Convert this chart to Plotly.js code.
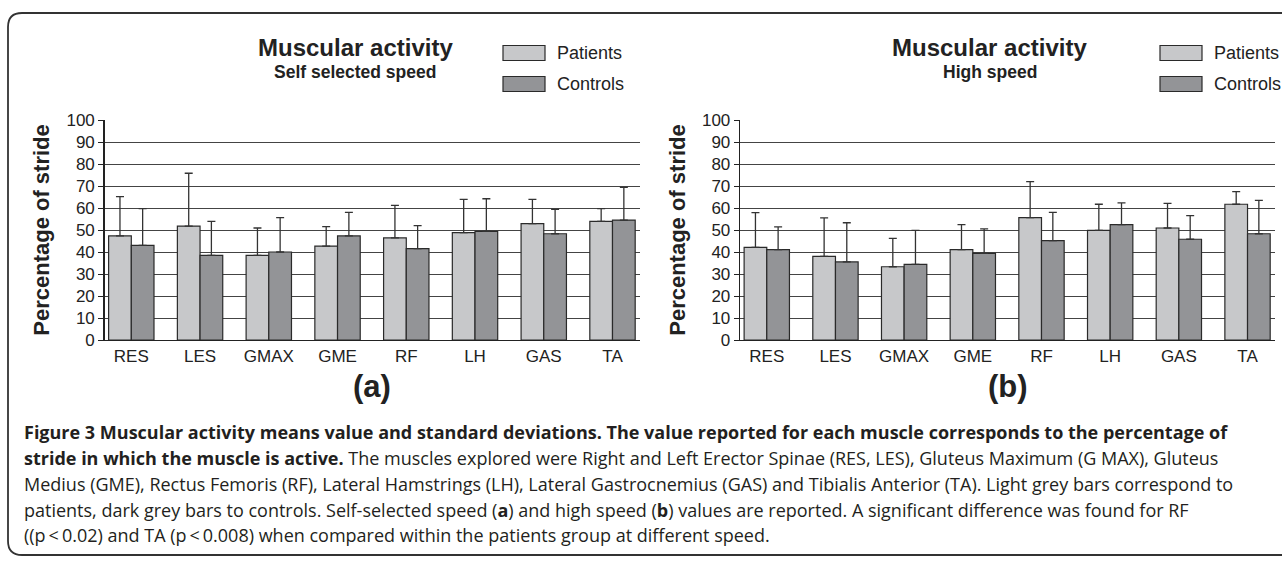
<!DOCTYPE html>
<html>
<head>
<meta charset="utf-8">
<script src="https://cdn.plot.ly/plotly-3.0.1.min.js"></script>
<style>
html,body{margin:0;padding:0;background:#fff;}
#chart{width:1282px;height:565px;}
</style>
</head>
<body>
<div id="chart"></div>
<script>
// ---- Data ----
const muscles = ["RES", "LES", "GMAX", "GME", "RF", "LH", "GAS", "TA"];

// (a) Self selected speed
const selfPatients   = [47.3, 51.8, 38.5, 42.7, 46.4, 48.8, 52.9, 53.9];
const selfPatientsSD = [17.9, 24.0, 12.4,  8.8, 14.8, 15.1, 11.0,  5.8];
const selfControls   = [43.0, 38.5, 40.0, 47.3, 41.5, 49.4, 48.3, 54.5];
const selfControlsSD = [16.7, 15.4, 15.6, 10.7, 10.5, 14.8, 11.1, 14.9];

// (b) High speed
const highPatients   = [42.1, 38.0, 33.3, 41.1, 55.6, 49.8, 50.9, 61.7];
const highPatientsSD = [15.8, 17.5, 12.9, 11.3, 16.4, 11.9, 11.2,  5.7];
const highControls   = [41.1, 35.5, 34.4, 39.4, 45.2, 52.4, 45.8, 48.3];
const highControlsSD = [10.3, 17.8, 15.4, 11.1, 12.8,  9.9, 10.7, 15.2];

const yTicks = [0, 10, 20, 30, 40, 50, 60, 70, 80, 90, 100];
const seriesNames = ["Patients", "Controls"];
const panelTitles = ["Muscular activity", "Muscular activity"];
const panelSubtitles = ["Self selected speed", "High speed"];
const panelLabels = ["(a)", "(b)"];
const yTitle = "Percentage of stride";

const captionLines = [
  "<b>Figure 3 Muscular activity means value and standard deviations. The value reported for each muscle corresponds to the percentage of</b>",
  "<b>stride in which the muscle is active.</b> The muscles explored were Right and Left Erector Spinae (RES, LES), Gluteus Maximum (G MAX), Gluteus",
  "Medius (GME), Rectus Femoris (RF), Lateral Hamstrings (LH), Lateral Gastrocnemius (GAS) and Tibialis Anterior (TA). Light grey bars correspond to",
  "patients, dark grey bars to controls. Self-selected speed (<b>a</b>) and high speed (<b>b</b>) values are reported. A significant difference was found for RF",
  "((p\u2009<\u20090.02) and TA (p\u2009<\u20090.008) when compared within the patients group at different speed."
];

// ---- Styling ----
const W = 1282, H = 565;
const colPat = "#c7c8ca", colCon = "#939497", edge = "#2a2a2a";
const FONT = "Liberation Sans, Arial, sans-serif";
const px = x => x / W;
const py = y => 1 - y / H;

function barTrace(name, y, sd, color, xa, ya) {
  return {
    type: "bar", name: name, x: muscles, y: y,
    xaxis: xa, yaxis: ya, showlegend: false,
    marker: {color: color, line: {color: edge, width: 1.2}},
    error_y: {type: "data", array: sd, symmetric: false,
              arrayminus: sd.map(() => 0), color: "#333", thickness: 1.3, width: 4},
    hoverinfo: "x+y"
  };
}

const data = [
  barTrace(seriesNames[0], selfPatients, selfPatientsSD, colPat, "x", "y"),
  barTrace(seriesNames[1], selfControls, selfControlsSD, colCon, "x", "y"),
  barTrace(seriesNames[0], highPatients, highPatientsSD, colPat, "x2", "y2"),
  barTrace(seriesNames[1], highControls, highControlsSD, colCon, "x2", "y2")
];

const plotTop = 120, plotBot = 340;
const panels = [{left: 104.5, right: 640}, {left: 740, right: 1275}];

function xAxis(p, anchor) {
  return {
    domain: [px(p.left), px(p.right)], anchor: anchor,
    type: "category", range: [-0.39, 7.4],
    showline: true, linecolor: "#222", linewidth: 1.3,
    ticks: "", showgrid: false, zeroline: false,
    tickfont: {family: FONT, size: 17, color: "#222"}, fixedrange: true
  };
}
function yAxis(anchor) {
  return {
    domain: [py(plotBot), py(plotTop)], anchor: anchor,
    range: [0, 100], tickvals: yTicks, ticktext: yTicks.map(String),
    showline: true, linecolor: "#222", linewidth: 1.3,
    ticks: "outside", ticklen: 5, tickcolor: "#222", tickwidth: 1,
    showgrid: true, gridcolor: "#444", gridwidth: 1, zeroline: false,
    tickfont: {family: FONT, size: 17, color: "#222"},
    title: {text: "<b>" + yTitle + "</b>", font: {family: FONT, size: 22, color: "#222"}, standoff: 10},
    fixedrange: true
  };
}

const annotations = [];
const shapes = [];

// outer frame
shapes.push({type: "path", xref: "paper", yref: "paper",
  path: `M ${px(1300)} ${py(13)} L ${px(22)} ${py(13)} Q ${px(8)} ${py(13)} ${px(8)} ${py(27)} L ${px(8)} ${py(541)} Q ${px(8)} ${py(555)} ${px(22)} ${py(555)} L ${px(1300)} ${py(555)}`,
  line: {color: "#333", width: 1.8}});

panels.forEach((p, i) => {
  const cx = (p.left + p.right) / 2;
  const tx = i === 0 ? 355 : 990;
  annotations.push({xref: "paper", yref: "paper", x: px(tx), y: py(47), xanchor: "center", yanchor: "middle",
    text: "<b>" + panelTitles[i] + "</b>", showarrow: false, font: {family: FONT, size: 24, color: "#222"}});
  annotations.push({xref: "paper", yref: "paper", x: px(tx), y: py(72), xanchor: "center", yanchor: "middle",
    text: "<b>" + panelSubtitles[i] + "</b>", showarrow: false, font: {family: FONT, size: 17.5, color: "#222"}});
  annotations.push({xref: "paper", yref: "paper", x: px(cx), y: py(386), xanchor: "center", yanchor: "middle",
    text: "<b>" + panelLabels[i] + "</b>", showarrow: false, font: {family: FONT, size: 31, color: "#222"}});
  // legend
  const lx = i === 0 ? 503 : 1160;
  [[colPat, 53, seriesNames[0]], [colCon, 84, seriesNames[1]]].forEach(([c, yc, name]) => {
    shapes.push({type: "rect", xref: "paper", yref: "paper",
      x0: px(lx), x1: px(lx + 42), y0: py(yc - 7.5), y1: py(yc + 7.5),
      fillcolor: c, line: {color: edge, width: 1.2}});
    annotations.push({xref: "paper", yref: "paper", x: px(lx + 52), y: py(yc), xanchor: "left", yanchor: "middle",
      text: name, showarrow: false, font: {family: FONT, size: 18, color: "#222"}});
  });
});

// caption
const capY = [432, 458, 484, 510, 535];
captionLines.forEach((t, i) => {
  annotations.push({xref: "paper", yref: "paper", x: px(22), y: py(capY[i]), xanchor: "left", yanchor: "middle",
    text: t, showarrow: false, align: "left", font: {family: "Open Sans, sans-serif", size: 18, color: "#231f20"}});
});

const layout = {
  width: W, height: H,
  margin: {l: 0, r: 0, t: 0, b: 0},
  paper_bgcolor: "#fff", plot_bgcolor: "#fff",
  barmode: "group", bargap: 0.34, bargroupgap: 0,
  showlegend: false,
  xaxis: xAxis(panels[0], "y"),
  yaxis: yAxis("x"),
  xaxis2: xAxis(panels[1], "y2"),
  yaxis2: yAxis("x2"),
  annotations: annotations,
  shapes: shapes
};

Plotly.newPlot("chart", data, layout, {displayModeBar: false, staticPlot: true});
</script>
</body>
</html>
